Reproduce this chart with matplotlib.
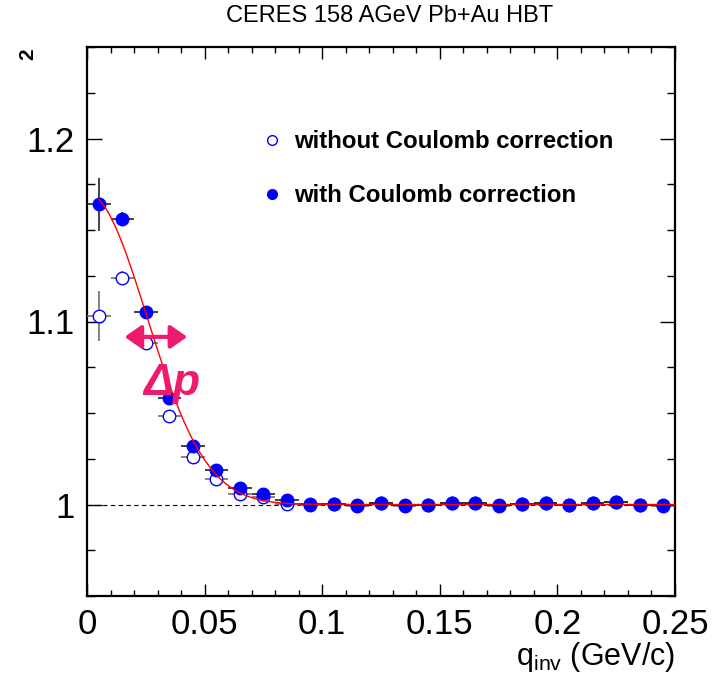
"""CERES 158 AGeV Pb+Au HBT correlation function, with and without Coulomb correction."""

import numpy as np
import matplotlib

matplotlib.use("Agg")
import matplotlib.pyplot as plt
from matplotlib.lines import Line2D
from matplotlib.ticker import MultipleLocator, FixedLocator

plt.rcParams["font.family"] = ["Liberation Sans", "DejaVu Sans"]

# bin centres of q_inv (GeV/c) and half bin width
q_inv = [0.005, 0.015, 0.025, 0.035, 0.045, 0.055, 0.065, 0.075, 0.085, 0.095,
         0.105, 0.115, 0.125, 0.135, 0.145, 0.155, 0.165, 0.175, 0.185, 0.195,
         0.205, 0.215, 0.225, 0.235, 0.245]
q_halfwidth = 0.005

c2_with = [1.164, 1.156, 1.105, 1.058, 1.032, 1.019, 1.009, 1.0055, 1.0025, 1.0005,
           1.0004, 0.9996, 1.0010, 0.9996, 1.0000, 1.0010, 1.0010, 0.9996, 1.0005, 1.0010,
           1.0000, 1.0010, 1.0015, 0.9997, 0.9995]
c2_with_err = [0.0145, 0.0036, 0.003, 0.002, 0.0015, 0.0012, 0.001, 0.0008, 0.0007, 0.0006,
               0.0005, 0.0005, 0.0005, 0.0005, 0.0005, 0.0005, 0.0005, 0.0005, 0.0005, 0.0005,
               0.0005, 0.0005, 0.0005, 0.0005, 0.0005]

c2_without = [1.103, 1.124, 1.088, 1.0485, 1.026, 1.014, 1.006, 1.004, 1.0005, 0.9997,
              1.0001, 0.9994, 1.0007, 0.9994, 0.9998, 1.0007, 1.0008, 0.9994, 1.0003, 1.0008,
              0.9998, 1.0008, 1.0012, 0.9995, 0.9993]
c2_without_err = [0.0137, 0.0035, 0.003, 0.002, 0.0015, 0.0012, 0.001, 0.0008, 0.0007, 0.0006,
                  0.0005, 0.0005, 0.0005, 0.0005, 0.0005, 0.0005, 0.0005, 0.0005, 0.0005, 0.0005,
                  0.0005, 0.0005, 0.0005, 0.0005, 0.0005]

# Gaussian fit 1 + lambda * exp(-(q R / hbar c)^2) to the corrected points
fit_lambda = 0.17
fit_radius_fm = 5.5
hbarc = 0.1973
fit_q_range = (0.005, 0.25)

x_ticks = [0.0, 0.05, 0.1, 0.15, 0.2, 0.25]
x_tick_labels = ["0", "0.05", "0.1", "0.15", "0.2", "0.25"]
y_ticks = [1.0, 1.1, 1.2]
y_tick_labels = ["1", "1.1", "1.2"]

BLUE = "#0000FF"
PINK = "#EE1A6E"

fig = plt.figure(figsize=(7.25, 6.75), dpi=100)
ax = fig.add_axes([87 / 725, 1 - 596 / 675, 588 / 725, 549 / 675])
ax.set_xlim(0, 0.25)
ax.set_ylim(0.95, 1.25)

ax.axhline(1.0, color="black", linestyle=(0, (4, 3)), linewidth=0.8, zorder=1)

ax.errorbar(q_inv, c2_without, xerr=q_halfwidth, yerr=c2_without_err, fmt="o",
            markersize=9, markerfacecolor="white", markeredgecolor=BLUE,
            markeredgewidth=1.0, ecolor="#6E6E6E", elinewidth=1.2, capsize=0, zorder=3)
ax.errorbar(q_inv, c2_with, xerr=q_halfwidth, yerr=c2_with_err, fmt="o",
            markersize=9, markerfacecolor=BLUE, markeredgecolor=BLUE,
            ecolor="#222222", elinewidth=1.2, capsize=0, zorder=4)

q_fit = np.linspace(*fit_q_range, 300)
c2_fit = 1 + fit_lambda * np.exp(-(q_fit * fit_radius_fm / hbarc) ** 2)
ax.plot(q_fit, c2_fit, color="red", linewidth=1.0, zorder=5)

# momentum-resolution arrow and label
ax.annotate("", xy=(0.0160, 1.0916), xytext=(0.0426, 1.0916),
            arrowprops=dict(arrowstyle="<|-|>,head_length=1.0,head_width=0.7",
                            color=PINK, linewidth=3.0, shrinkA=0, shrinkB=0),
            zorder=6)
ax.text(0.0360, 1.066, "Δp", color=PINK, fontsize=32, fontweight="bold",
        fontstyle="italic", ha="center", va="center", zorder=6)

handles = [
    Line2D([], [], linestyle="none", marker="o", markersize=7,
           markerfacecolor="white", markeredgecolor=BLUE, markeredgewidth=1.0),
    Line2D([], [], linestyle="none", marker="o", markersize=7,
           markerfacecolor=BLUE, markeredgecolor=BLUE),
]
ax.legend(handles, ["without Coulomb correction", "with Coulomb correction"],
          loc="upper left", bbox_to_anchor=(262 / 725, 1 - 130 / 675),
          bbox_transform=fig.transFigure, frameon=False,
          prop=dict(size=17.3, weight="bold"), handlelength=0.8,
          handletextpad=0.55, labelspacing=1.3, borderpad=0, borderaxespad=0)

ax.xaxis.set_major_locator(FixedLocator(x_ticks))
ax.set_xticklabels(x_tick_labels)
ax.xaxis.set_minor_locator(MultipleLocator(0.01))
ax.yaxis.set_major_locator(FixedLocator(y_ticks))
ax.set_yticklabels(y_tick_labels)
ax.yaxis.set_minor_locator(MultipleLocator(0.025))

ax.tick_params(which="both", direction="in", top=True, right=True,
               labelsize=25, color="black", width=1.0)
ax.tick_params(axis="x", which="major", length=8.5, pad=9)
ax.tick_params(axis="x", which="minor", length=4.3)
ax.tick_params(axis="y", which="major", length=10.8, pad=9)
ax.tick_params(axis="y", which="minor", length=5.8)
for spine in ax.spines.values():
    spine.set_linewidth(1.6)

ax.set_xlabel("q$_{\\mathregular{inv}}$ (GeV/c)", fontsize=22, loc="right",
              labelpad=-1)
fig.text(28 / 725, 1 - 54 / 675, "2", rotation=90, fontsize=15,
         fontweight="bold", ha="center", va="center")
fig.suptitle("CERES 158 AGeV Pb+Au HBT", x=390 / 725, y=1 - 16 / 675,
             va="center", fontsize=17)

fig.savefig("out.png", dpi=100, facecolor="white")
